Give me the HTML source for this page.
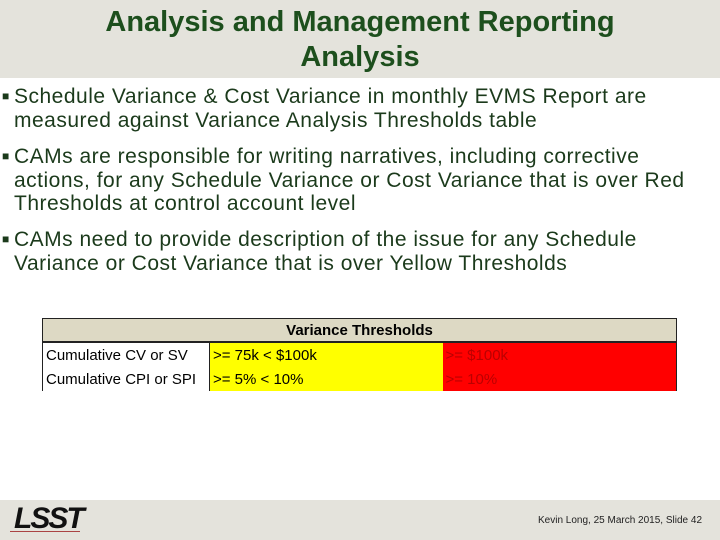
<!DOCTYPE html>
<html><head><meta charset="utf-8"><style>
body{margin:0;width:720px;height:540px;position:relative;overflow:hidden;background:#fff;font-family:"Liberation Sans",sans-serif}
.hdr{position:absolute;left:0;top:0;width:720px;height:78px;background:#e4e3dc}
.title{position:absolute;left:0;width:720px;top:5px;text-align:center;color:#1d4f1d;font-weight:bold;font-size:29px;line-height:35px}
.b{position:absolute;left:14px;color:#1b3a1b;font-size:21px;letter-spacing:0.5px;line-height:23.5px;width:700px}
.b span{position:absolute;left:-12px;font-size:12px}
.ftr{position:absolute;left:0;top:500px;width:720px;height:40px;background:#e4e3dc}
table{position:absolute;left:42px;top:318px;border-collapse:collapse;font-family:"Liberation Sans",sans-serif;font-size:15px;table-layout:fixed;width:634px}
td{height:24px;padding:0 3px;border:0;white-space:nowrap;overflow:hidden}
</style></head><body>
<div class="hdr"></div>
<div class="title">Analysis and Management Reporting<br>Analysis</div>
<div class="b" style="top:85px"><span>■</span>Schedule Variance &amp; Cost Variance in monthly EVMS Report are measured against Variance Analysis Thresholds table</div>
<div class="b" style="top:145px"><span>■</span>CAMs are responsible for writing narratives, including corrective actions, for any Schedule Variance or Cost Variance that is over Red Thresholds at control account level</div>
<div class="b" style="top:228px"><span>■</span>CAMs need to provide description of the issue for any Schedule Variance or Cost Variance that is over Yellow Thresholds</div>
<table>
<colgroup><col style="width:167px"><col style="width:233px"><col style="width:234px"></colgroup>
<tr><td colspan="3" style="height:22px;background:#ddd9c4;text-align:center;font-weight:bold;border:1px solid #222;border-bottom:2px solid #222">Variance Thresholds</td></tr>
<tr><td style="border-left:1px solid #222;border-right:1px solid #222">Cumulative CV or SV</td><td style="background:#ffff00">&gt;= 75k &lt; $100k</td><td style="background:#ff0000;color:#b00;border-right:1px solid #222">&gt;= $100k</td></tr>
<tr><td style="border-left:1px solid #222;border-right:1px solid #222">Cumulative CPI or SPI</td><td style="background:#ffff00">&gt;= 5% &lt; 10%</td><td style="background:#ff0000;color:#b00;border-right:1px solid #222">&gt;= 10%</td></tr>
</table>
<div class="ftr"></div>
<div style="position:absolute;left:14px;top:502px;font:italic bold 30px 'Liberation Sans',sans-serif;color:#111;letter-spacing:-2px">LSST</div>
<div style="position:absolute;left:10px;top:531px;width:70px;height:1px;background:#a44"></div>
<div style="position:absolute;right:18px;top:515px;font-size:10px;color:#222">Kevin Long, 25 March 2015, Slide 42</div>
</body></html>
